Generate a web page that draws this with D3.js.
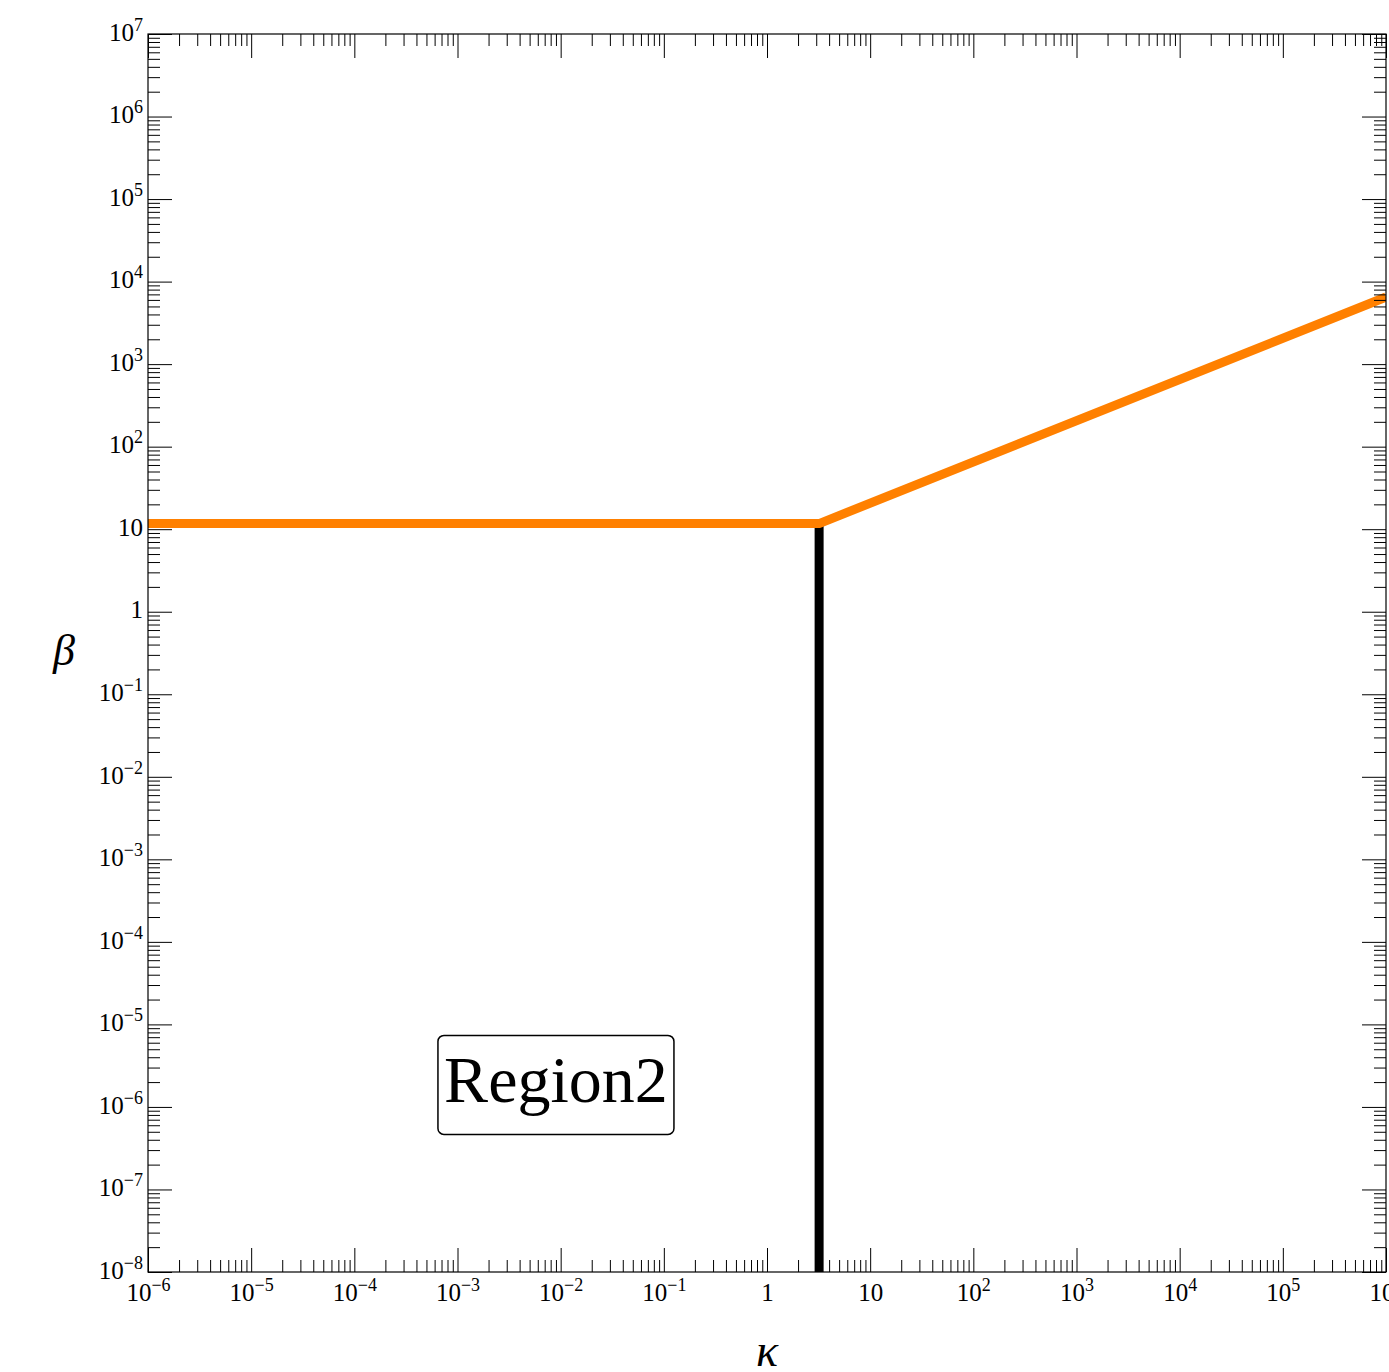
<!DOCTYPE html>
<html>
<head>
<meta charset="utf-8">
<script src="https://cdn.jsdelivr.net/npm/d3@7"></script>
<style>
	body { margin: 0; background: #fff; }
	svg { display: block; }
	text { font-family: "Liberation Serif", "DejaVu Serif", serif; fill: #000; }
</style>
</head>
<body>
<div id="chart"></div>
<script>
// data
var kappaDomain = [1e-6, 1e6];
var betaDomain = [1e-8, 1e7];
var xExponents = d3.range(-6, 7);
var yExponents = d3.range(-8, 8);

// orange boundary: flat, then beta ~ sqrt(kappa)
var boundaryKappa = [1e-6, 3.2, 1e6];
var boundaryBeta = [11.7, 11.7, 6500];

// black vertical boundary
var wallKappa = [3.2, 3.2];
var wallBeta = [11.7, 1e-8];

var regionLabel = { text: "Region2", kappa: 9e-3, beta: 1.85e-6 };

var width = 1389, height = 1372;
var plot = { left: 148, right: 1386, top: 34, bottom: 1272 };

var svg = d3.select("#chart").append("svg")
	.attr("width", width)
	.attr("height", height);

var x = d3.scaleLog().domain(kappaDomain).range([plot.left, plot.right]);
var y = d3.scaleLog().domain(betaDomain).range([plot.bottom, plot.top]);

function minorTicks(exps) {
	var out = [];
	exps.forEach(function (e) {
		for (var m = 2; m <= 9; m++) out.push(m * Math.pow(10, e));
	});
	return out;
}

var xMajor = xExponents.map(function (e) { return Math.pow(10, e); });
var yMajor = yExponents.map(function (e) { return Math.pow(10, e); });
var xMinor = minorTicks(xExponents.slice(0, -1));
var yMinor = minorTicks(yExponents.slice(0, -1));

function powLabel(sel) {
	sel.each(function (d) {
		var e = Math.round(Math.log10(d));
		var t = d3.select(this).text(null);
		if (e === 0) { t.append("tspan").text("1"); return; }
		if (e === 1) { t.append("tspan").text("10"); return; }
		t.append("tspan").text("10");
		t.append("tspan")
			.attr("dy", -10)
			.attr("font-size", 18)
			.text(String(e).replace("-", "\u2212"));
	});
}

var clip = svg.append("clipPath").attr("id", "plotClip")
  .append("rect")
	.attr("x", plot.left)
	.attr("y", plot.top)
	.attr("width", plot.right - plot.left)
	.attr("height", plot.bottom - plot.top);

// lines
var lineGroup = svg.append("g").attr("clip-path", "url(#plotClip)");

var line = d3.line()
	.x(function (d) { return x(d[0]); })
	.y(function (d) { return y(d[1]); });

lineGroup.append("path")
	.datum(d3.zip(wallKappa, wallBeta))
	.attr("d", line)
	.attr("fill", "none")
	.attr("stroke", "#000")
	.attr("stroke-width", 9);

lineGroup.append("path")
	.datum(d3.zip(boundaryKappa, boundaryBeta))
	.attr("d", line)
	.attr("fill", "none")
	.attr("stroke", "#ff8000")
	.attr("stroke-width", 9)
	.attr("stroke-linejoin", "round");

// axes: major + minor ticks, on all four sides, pointing inward
function styleAxis(g) {
	g.select(".domain").remove();
	g.selectAll(".tick line").attr("stroke", "#000").attr("stroke-width", 1);
}

var axisSpecs = [
	{ make: d3.axisBottom, scale: x, pos: "translate(0," + plot.bottom + ")", major: xMajor, minor: xMinor, labels: true },
	{ make: d3.axisTop, scale: x, pos: "translate(0," + plot.top + ")", major: xMajor, minor: xMinor, labels: false },
	{ make: d3.axisLeft, scale: y, pos: "translate(" + plot.left + ",0)", major: yMajor, minor: yMinor, labels: true },
	{ make: d3.axisRight, scale: y, pos: "translate(" + plot.right + ",0)", major: yMajor, minor: yMinor, labels: false }
];

axisSpecs.forEach(function (s) {
	var minorG = svg.append("g")
		.attr("transform", s.pos)
		.call(s.make(s.scale).tickValues(s.minor).tickSize(-12).tickSizeOuter(0).tickFormat(""));
	styleAxis(minorG);

	var majorG = svg.append("g")
		.attr("transform", s.pos)
		.call(s.make(s.scale).tickValues(s.major).tickSize(-24).tickSizeOuter(0)
			.tickPadding(s.make === d3.axisBottom ? 11 : 5)
			.tickFormat(s.labels ? function (d) { return d; } : ""));
	styleAxis(majorG);

	majorG.selectAll(".tick text")
		.attr("font-size", 25)
		.attr("font-family", "Liberation Serif, serif")
		.attr("fill", "#000");
	if (s.labels) {
		majorG.selectAll(".tick text").call(powLabel);
		if (s.make === d3.axisLeft) majorG.selectAll(".tick text").attr("dy", "0.25em");
	}
});

// frame
svg.append("rect")
	.attr("x", plot.left)
	.attr("y", plot.top)
	.attr("width", plot.right - plot.left)
	.attr("height", plot.bottom - plot.top)
	.attr("fill", "none")
	.attr("stroke", "#000")
	.attr("stroke-width", 1.2);

// region label
var lx = x(regionLabel.kappa), ly = y(regionLabel.beta);
svg.append("rect")
	.attr("x", lx - 118)
	.attr("y", ly - 49.5)
	.attr("width", 236)
	.attr("height", 99)
	.attr("rx", 6)
	.attr("fill", "#fff")
	.attr("stroke", "#000")
	.attr("stroke-width", 1.5);
svg.append("text")
	.attr("x", lx)
	.attr("y", ly + 17)
	.attr("text-anchor", "middle")
	.attr("font-size", 66)
	.text(regionLabel.text);

// axis titles
svg.append("text")
	.attr("x", (plot.left + plot.right) / 2)
	.attr("y", 1366)
	.attr("text-anchor", "middle")
	.attr("font-size", 46)
	.attr("font-style", "italic")
	.text("\u03ba");

svg.append("text")
	.attr("x", 64)
	.attr("y", 665)
	.attr("text-anchor", "middle")
	.attr("font-size", 44)
	.attr("font-style", "italic")
	.text("\u03b2");
</script>
</body>
</html>
